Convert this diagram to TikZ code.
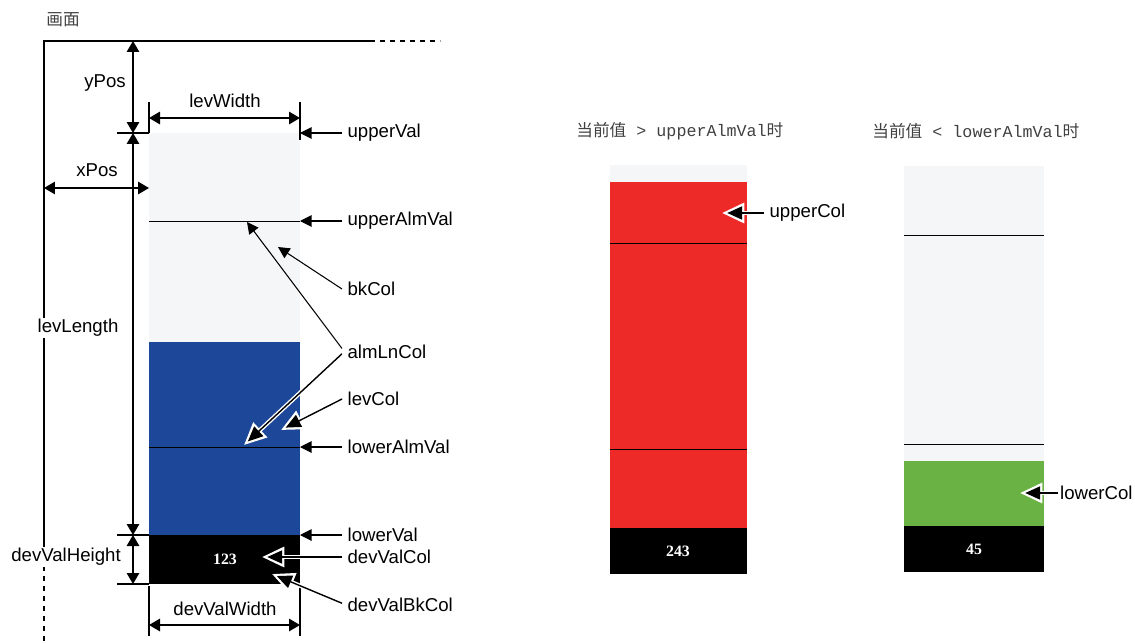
\documentclass[tikz,border=0pt]{standalone}
\usepackage{fontspec}
\setmainfont{Liberation Sans}
\setmonofont{Liberation Mono}
\newfontfamily\cjk{Noto Sans CJK SC}
\newfontfamily\numfont{Liberation Serif}
\usetikzlibrary{arrows.meta,positioning}
\definecolor{bkgray}{RGB}{245,246,248}
\definecolor{levblue}{RGB}{29,71,153}
\definecolor{almred}{RGB}{238,42,41}
\definecolor{lowgreen}{RGB}{107,178,69}
\newcommand{\titlefont}{\fontsize{9.5}{11}\selectfont}

\begin{document}
\begin{tikzpicture}[x=0.02cm,y=-0.02cm,font=\fontsize{10.6}{12}\selectfont,
  dim/.style={{Triangle[length=2.2mm,width=2.5mm]}-{Triangle[length=2.2mm,width=2.5mm]},line width=0.8pt},
  ptr/.style={-{Triangle[length=2.3mm,width=2.3mm]},line width=0.6pt},
  halo/.style={-{Triangle[length=8.5pt,width=7.5pt]},line width=0.8pt,shorten >=3pt,
    preaction={draw=white,line width=2.4pt,shorten >=0pt,-{Triangle[length=12.7pt,width=11.2pt]}}},
  ext/.style={line width=0.6pt},
  alm/.style={line width=0.5pt},
  lbl/.style={anchor=west,inner sep=3pt},
  dimlbl/.style={inner sep=1pt},
  val/.style={text=white,font=\numfont\bfseries\fontsize{9}{10}\selectfont},
  ttl/.style={anchor=west,inner sep=0pt,text=black!75,font=\titlefont}]
\useasboundingbox (0,0) rectangle (1135,642);

% screen frame
\node[ttl] (scrTitle) at (46,20) {\cjk 画面};
\draw[line width=0.8pt] (370,41) -- (44,41) -- (44,550);
\draw[line width=0.8pt,dash pattern=on 1mm off 1mm] (370,41) -- (440,41);
\draw[line width=0.8pt,dash pattern=on 1mm off 1mm] (44,566) -- (44,642);

% level meter
\fill[bkgray] (149,133) rectangle (300,342);
\fill[levblue] (149,342) rectangle (300,535);
\fill[black] (149,535) rectangle (300,584);
\draw[alm] (149,221) -- (300,221);
\draw[alm] (149,447) -- (300,447);
\node[val] (devVal) at (225,559) {123};

\coordinate (uv) at (300,133);
\coordinate (ua) at (300,221);
\coordinate (la) at (300,447);
\coordinate (lv) at (300,535);

% dimensions
\coordinate (scrTop) at (133,41);
\coordinate (barTop) at (133,133);
\coordinate (barBot) at (133,535);
\coordinate (devBot) at (133,584);
\draw[ext] (117,133) -- (149,133);
\draw[ext] (117,535) -- (149,535);
\draw[ext] (117,584) -- (149,584);
\draw[ext] (149,102) -- (149,133);
\draw[ext] (300,102) -- (300,140);
\draw[ext] (149,586) -- (149,636);
\draw[ext] (300,586) -- (300,636);

\draw[dim] (scrTop) -- (barTop);
\node[dimlbl] (yPos) at (105,83) {yPos};
\draw[dim] (barTop) -- (barBot);
\node[dimlbl,fill=white] (levLength) at (78,328) {levLength};
\draw[dim] (barBot) -- (devBot);
\node[dimlbl,fill=white] (devValHeight) at (66,557) {devValHeight};
\coordinate (xl) at (44,188);
\coordinate (xr) at (149,188);
\draw[dim] (xl) -- (xr);
\node[dimlbl] (xPos) at (97,170) {xPos};
\coordinate (wl) at (149,118);
\coordinate (wr) at (300,118);
\draw[dim] (wl) -- (wr);
\node[dimlbl] (levWidth) at (225,101) {levWidth};
\coordinate (dl) at (149,625);
\coordinate (dr) at (300,625);
\draw[dim] (dl) -- (dr);
\node[dimlbl] (devValWidth) at (225,609) {devValWidth};

% labels
\node[lbl] (upperVal) at (342,133) {upperVal};
\node[lbl] (upperAlmVal) at (342,221) {upperAlmVal};
\node[lbl] (bkCol) at (342,289) {bkCol};
\node[lbl] (almLnCol) at (342,352) {almLnCol};
\node[lbl] (levCol) at (342,399) {levCol};
\node[lbl] (lowerAlmVal) at (342,447) {lowerAlmVal};
\node[lbl] (lowerVal) at (342,535) {lowerVal};
\node[lbl] (devValCol) at (342,557) {devValCol};
\node[lbl] (devValBkCol) at (342,605) {devValBkCol};

\draw[ptr] (upperVal.west) -- (uv);
\draw[ptr] (upperAlmVal.west) -- (ua);
\draw[ptr] (bkCol.west) -- (278,247);
\draw[ptr] ([yshift=2pt]almLnCol.west) -- (247,222);
\draw[halo] ([yshift=-1pt]almLnCol.west) -- (244,445);
\draw[halo] (levCol.west) -- (281,430);
\draw[ptr] (lowerAlmVal.west) -- (la);
\draw[ptr] (lowerVal.west) -- (lv);
\draw[halo] (devValCol.west) -- (262,557);
\draw[halo] ([yshift=1pt]devValBkCol.west) -- (272,574);

% upper alarm case
\node[ttl] (upTitle) at (576,131) {{\cjk 当前值}\texttt{\ >\ upperAlmVal}{\cjk 时}};
\fill[bkgray] (610,165) rectangle (747,182);
\fill[almred] (610,182) rectangle (747,528);
\draw[alm] (610,243) -- (747,243);
\draw[alm] (610,449) -- (747,449);
\fill[black] (610,528) rectangle (747,574);
\node[val] (upVal) at (678,551) {243};
\node[lbl] (upperCol) at (764,213) {upperCol};
\draw[halo] (upperCol.west) -- (722,213);

% lower alarm case
\node[ttl] (lowTitle) at (872,131) {{\cjk 当前值}\texttt{\ <\ lowerAlmVal}{\cjk 时}};
\fill[bkgray] (904,166) rectangle (1044,461);
\draw[alm] (904,235) -- (1044,235);
\draw[alm] (904,444) -- (1044,444);
\fill[lowgreen] (904,461) rectangle (1044,526);
\fill[black] (904,526) rectangle (1044,572);
\node[val] (lowVal) at (974,549) {45};
\node[lbl,inner sep=1pt] (lowerCol) at (1058,493) {lowerCol};
\draw[halo] (lowerCol.west) -- (1020,493);
\end{tikzpicture}
\end{document}
